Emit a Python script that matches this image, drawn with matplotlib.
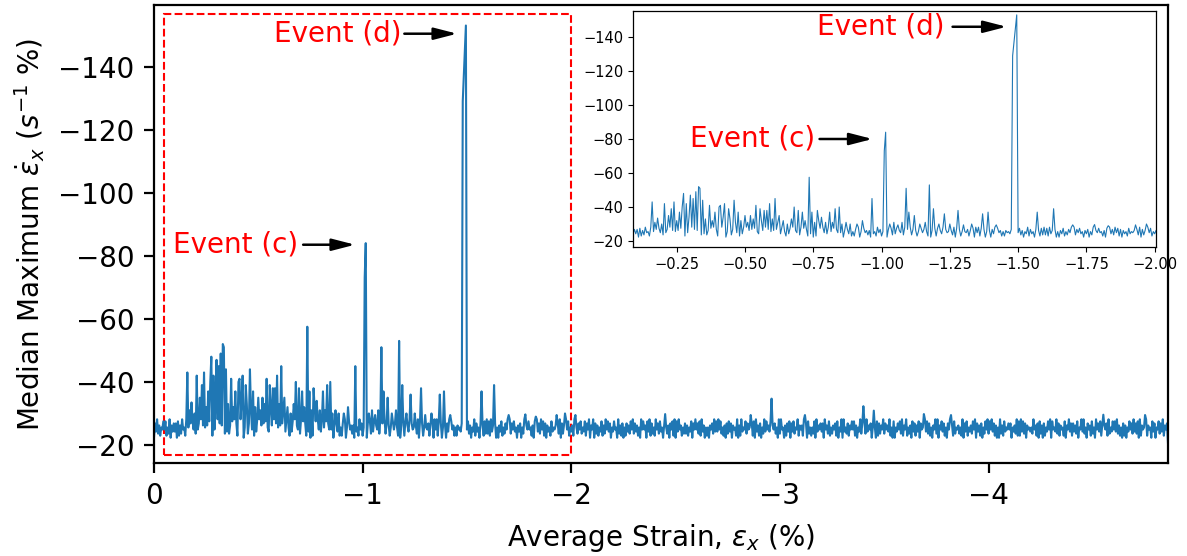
import numpy as np
import matplotlib
matplotlib.use("Agg")
import matplotlib.pyplot as plt
from matplotlib.patches import Rectangle

# strain step between frames (%), baseline noise is one digit per frame
STEP = 0.005
BASE_TOP = -22.3
BASE_PER_DIGIT = -0.65
NOISE = (
    "07392615484815290637370816294519350728462847193605"
    "06382719454917360825352618490718492705362705481639"
    "09463728153816094725462718390515382906472948071536"
    "07163829453925180746480627391517390528462608351947"
    "15490738263816452907092746153847351906281806392745"
    "36290847152547163809491827053607392846151645370928"
    "48260539173507461829281936470506381527491927483506"
    "37052916484516082937294817063518354607290726394815"
    "36190527482538174906490726153816294837053845092617"
    "05173628492736150948460839172519472835063526074819"
    "08394615272615380749472819360515064729383948251607"
    "28370645190619354827452718093617052938463816472509"
    "29450617380738254916461937082515280936473709462815"
    "26471805390935271648481605392718293647053508172649"
    "27463915080537482916491526083716380745293827150649"
    "29064837150749361825462519073815362849073617052849"
    "28493716050926183547470536291819382706453529461708"
    "26071538490845392716451806493717362805493925074618"
    "25094738160647192538483926150716053847293728091645"
    "29164508370548273916471936250818370549261837054926"
)

# bursts above the baseline: strain (%) and median max strain rate
SPIKE_X = [-0.16, -0.17, -0.18, -0.195, -0.205, -0.22, -0.23, -0.24, -0.25, -0.26,
           -0.27, -0.275, -0.285, -0.295, -0.30, -0.31, -0.32, -0.33, -0.335, -0.345,
           -0.355, -0.37, -0.38, -0.39, -0.405, -0.41, -0.42, -0.425, -0.44, -0.445,
           -0.46, -0.465, -0.475, -0.485, -0.50, -0.51, -0.52, -0.53, -0.54, -0.555,
           -0.56, -0.57, -0.58, -0.59, -0.60, -0.61, -0.62, -0.625, -0.64, -0.655,
           -0.67, -0.68, -0.695, -0.71, -0.72, -0.735, -0.745, -0.755, -0.765, -0.77,
           -0.78, -0.795, -0.81, -0.82, -0.83, -0.845, -0.855, -0.87, -0.885, -0.91,
           -0.93, -0.965, -1.01, -1.015, -1.03, -1.045, -1.06, -1.075, -1.09, -1.10,
           -1.12, -1.14, -1.16, -1.175, -1.19, -1.21, -1.23, -1.25, -1.28, -1.30,
           -1.33, -1.37, -1.39, -1.42, -1.48, -1.485, -1.49, -1.495, -1.57, -1.63,
           -1.70, -1.78, -1.83, -1.93, -1.97, -2.02, -2.45, -2.86, -2.96, -3.12,
           -3.40, -3.45, -3.69, -3.82, -4.55, -4.75, -4.86]
SPIKE_Y = [-43, -31, -33.5, -30, -42, -35, -39, -43, -32, -37,
           -40, -48, -42, -34, -47, -45, -49, -52, -51, -44,
           -33, -41, -32, -37, -40, -41, -34, -42, -39, -33,
           -44, -31, -37, -32, -35, -31, -35, -33, -41, -39,
           -32, -38, -38, -42, -33, -45, -31, -35, -32, -30,
           -33, -40, -38, -37, -32, -57.5, -37, -31, -38, -32,
           -34, -31, -37, -31, -39, -40, -30, -31, -30, -30,
           -32, -45, -73, -84, -30, -31, -29.5, -31, -51, -37,
           -35, -30, -31, -53, -39, -30, -36, -30, -38, -29.5,
           -30, -36, -37, -29.5, -129, -137, -145, -153, -37, -39,
           -29.5, -29.7, -29, -29.5, -30, -29.5, -29.8, -29.5, -34.7, -29.5,
           -32.3, -30.9, -29.8, -29.5, -29.6, -29.5, -20.5]

MAIN_XTICKS = [0, -1, -2, -3, -4]
YTICKS = [-20, -40, -60, -80, -100, -120, -140]
INSET_XTICKS = [-0.25, -0.5, -0.75, -1.0, -1.25, -1.5, -1.75, -2.0]

rate = BASE_TOP + BASE_PER_DIGIT * np.array([int(c) for c in NOISE], float)
strain = -STEP * np.arange(rate.size)
for sx, sy in zip(SPIKE_X, SPIKE_Y):
    rate[int(round(-sx / STEP))] = sy

ARROW = "-|>,head_length=0.7,head_width=0.18"


def event(ax, label, y, text_x, start_x, tip_x):
    ax.text(text_x, y, label, color="red", fontsize=20, ha="right", va="center")
    ax.annotate("", xy=(tip_x, y), xytext=(start_x, y),
                arrowprops=dict(arrowstyle=ARROW, color="black", lw=1.8,
                                shrinkA=0, shrinkB=0, mutation_scale=20))


fig = plt.figure(figsize=(11.87, 5.56), dpi=100)
ax = fig.add_axes([0.1297, 0.1673, 0.8543, 0.8237])
ax.plot(strain, rate, color="#1f77b4", lw=1.5)
ax.set_xlim(0, -4.86)
ax.set_ylim(-14.3, -159.5)
ax.set_xticks(MAIN_XTICKS)
ax.set_yticks(YTICKS)
ax.tick_params(labelsize=20, length=7, width=1.6, pad=7)
for s in ax.spines.values():
    s.set_linewidth(1.6)
ax.set_xlabel(r"Average Strain, $\varepsilon_x$ (%)", fontsize=20, labelpad=8)
ax.set_ylabel(r"Median Maximum $\dot{\varepsilon}_x$ ($s^{-1}$ %)", fontsize=20, labelpad=8)
ax.add_patch(Rectangle((-0.05, -16.8), -1.95, -139.9, fill=False, ec="red",
                       ls="--", lw=1.5))
event(ax, "Event (c)", -83.5, -0.69, -0.715, -0.964)
event(ax, "Event (d)", -150.4, -1.185, -1.20, -1.453)

axi = fig.add_axes([0.5333, 0.5558, 0.4406, 0.4245])
axi.plot(strain, rate, color="#1f77b4", lw=0.8)
axi.set_xlim(-0.09, -2.005)
axi.set_ylim(-16.5, -155.3)
axi.set_xticks(INSET_XTICKS)
axi.set_yticks(YTICKS)
axi.tick_params(labelsize=10.5)
for s in axi.spines.values():
    s.set_linewidth(0.9)
event(axi, "Event (c)", -80, -0.758, -0.773, -0.967)
event(axi, "Event (d)", -146, -1.229, -1.26, -1.458)

fig.savefig("out.png", dpi=100)
